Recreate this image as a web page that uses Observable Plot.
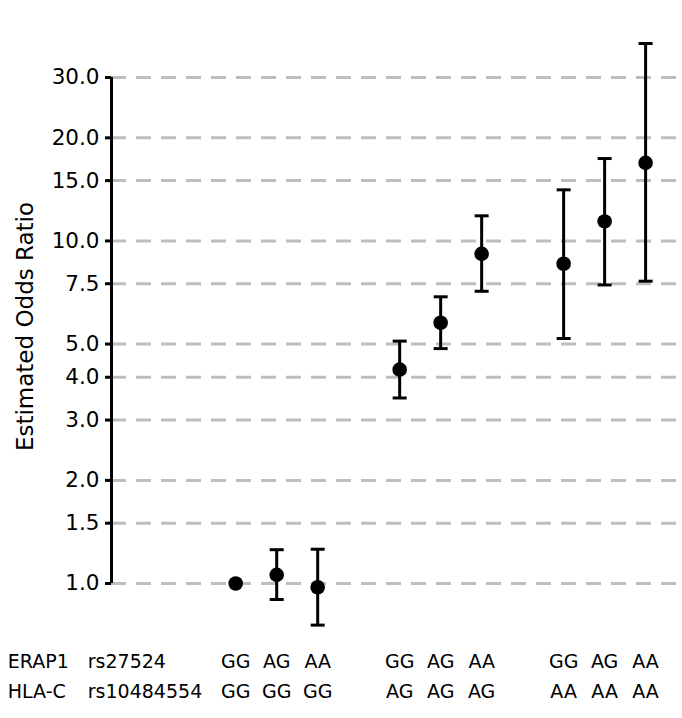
<!DOCTYPE html>
<html>
<head>
<meta charset="utf-8">
<script src="https://cdn.jsdelivr.net/npm/d3@7"></script>
<script src="https://cdn.jsdelivr.net/npm/@observablehq/plot@0.6"></script>
<style>
  html, body { margin: 0; padding: 0; background: white; }
  #chart svg { display: block; }
</style>
</head>
<body>
<div id="chart"></div>
<script>
// Genotype combinations (ERAP1 rs27524 x HLA-C rs10484554)
const genotypeOrder = ["GG", "AG", "AA"];
const erap1Genotypes = ["GG", "AG", "AA", "GG", "AG", "AA", "GG", "AG", "AA"];
const hlacGenotypes  = ["GG", "GG", "GG", "AG", "AG", "AG", "AA", "AA", "AA"];

// Estimated odds ratios and 95% confidence limits
const oddsRatio = [1.0, 1.06, 0.975, 4.21, 5.77, 9.17, 8.58, 11.4, 16.9];
const lowerCI   = [null, 0.898, 0.756, 3.48, 4.85, 7.13, 5.19, 7.44, 7.63];
const upperCI   = [null, 1.255, 1.259, 5.10, 6.87, 11.84, 14.1, 17.4, 37.7];

// Axis ticks
const yTicks = [1.0, 1.5, 2.0, 3.0, 4.0, 5.0, 7.5, 10.0, 15.0, 20.0, 30.0];
const yLabel = "Estimated Odds Ratio";
const rowLabels = ["ERAP1", "HLA-C"];
const snpLabels = ["rs27524", "rs10484554"];

const rows = erap1Genotypes.map((e, i) => ({
  erap: e,
  hla: hlacGenotypes[i],
  or: oddsRatio[i],
  lo: lowerCI[i],
  hi: upperCI[i],
  pos: genotypeOrder.indexOf(hlacGenotypes[i]) * 4 + genotypeOrder.indexOf(e)
}));

const xDomain = [-3.03, 10.9];

const capSymbol = {
  draw(context) {
    context.moveTo(-7, 0);
    context.lineTo(7, 0);
  }
};

const font = "DejaVu Sans";

const chart = Plot.plot({
  width: 682,
  height: 718,
  marginLeft: 111,
  marginRight: 0,
  marginTop: 20,
  marginBottom: 86,
  style: { fontFamily: font, background: "white", color: "black" },
  x: { domain: xDomain, axis: null },
  y: { type: "log", domain: [yTicks[0], yTicks[yTicks.length - 1]], range: [583, 77], axis: null },
  marks: [
    Plot.ruleY(yTicks, { stroke: "#bebebe", strokeWidth: 3, strokeDasharray: "15,10" }),
    Plot.ruleX([xDomain[0]], { y1: yTicks[0], y2: yTicks[yTicks.length - 1], stroke: "black", strokeWidth: 3 }),
    Plot.axisY(yTicks, {
      tickFormat: d3.format(".1f"),
      tickSize: 6,
      tickPadding: 6,
      strokeWidth: 3,
      fontSize: 21.5,
      fill: "black",
      label: null
    }),
    Plot.text([yLabel], {
      frameAnchor: "left",
      rotate: -90,
      lineAnchor: "top",
      textAnchor: "middle",
      dx: -95,
      fontSize: 23,
      fill: "black"
    }),
    Plot.ruleX(rows, { x: "pos", y1: "lo", y2: "hi", stroke: "black", strokeWidth: 3 }),
    Plot.dot(rows, { x: "pos", y: "lo", symbol: capSymbol, fill: "none", stroke: "black", strokeWidth: 3 }),
    Plot.dot(rows, { x: "pos", y: "hi", symbol: capSymbol, fill: "none", stroke: "black", strokeWidth: 3 }),
    Plot.dot(rows, { x: "pos", y: "or", r: 7.3, fill: "black", stroke: "none" }),
    Plot.text(rows, {
      x: "pos",
      text: d => `${d.erap}\n${d.hla}`,
      frameAnchor: "bottom",
      lineAnchor: "top",
      lineHeight: 1.605,
      dy: 13.85,
      fontSize: 19,
      fill: "black"
    }),
    Plot.text([rowLabels.join("\n")], {
      frameAnchor: "bottom-left",
      textAnchor: "start",
      lineAnchor: "top",
      lineHeight: 1.605,
      dx: -103.7,
      dy: 13.85,
      fontSize: 19,
      fill: "black"
    }),
    Plot.text([snpLabels.join("\n")], {
      frameAnchor: "bottom-left",
      textAnchor: "start",
      lineAnchor: "top",
      lineHeight: 1.605,
      dx: -23.7,
      dy: 13.85,
      fontSize: 19,
      fill: "black"
    })
  ]
});

document.getElementById("chart").appendChild(chart);
</script>
</body>
</html>
